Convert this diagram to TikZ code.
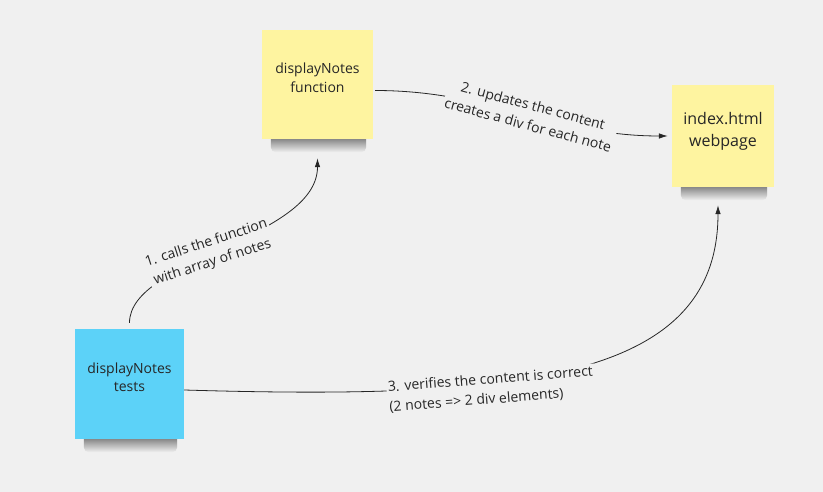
\documentclass[tikz,border=0pt]{standalone}
\usepackage{fontspec}
\setmainfont{Open Sans}
\usetikzlibrary{arrows.meta}
\definecolor{bgcol}{RGB}{240,240,240}
\definecolor{ink}{RGB}{38,38,38}
\definecolor{notey}{RGB}{254,244,160}
\definecolor{noteb}{RGB}{92,210,248}
\pgfdeclarelayer{bg}
\pgfdeclarelayer{shadow}
\pgfsetlayers{bg,shadow,main}
\tikzset{>={Latex[length=9pt,width=5.5pt]}}
\tikzset{
  note/.style={minimum width=110pt,minimum height=110pt,inner sep=0pt,align=center,text=ink,
    text depth=14pt,font=\fontsize{14}{18.5}\selectfont},
  lab/.style={fill=bgcol,inner sep=1.5pt,align=center,text=ink,font=\fontsize{14}{20}\selectfont},
  link/.style={draw=ink,line width=.8pt},
  notefx/.style={top color=black!62!bgcol,bottom color=bgcol,rounded corners=5pt}
}
\begin{document}
\begin{tikzpicture}[x=1pt,y=-1pt]
\begin{pgfonlayer}{bg}
\fill[bgcol] (0,0) rectangle (823,492);
\end{pgfonlayer}
\useasboundingbox (0,0) rectangle (823,492);
\node[note,fill=notey,minimum width=111pt,minimum height=109pt] (fn) at (317.5,84.5) {displayNotes\\function};
\node[note,fill=notey,minimum width=102pt,minimum height=102pt,font=\fontsize{16}{22}\selectfont] (web) at (723,136) {index.html\\webpage};
\node[note,fill=noteb,minimum width=109pt] (tests) at (129.5,384) {displayNotes\\tests};
\begin{pgfonlayer}{shadow}
\foreach \n in {fn,web,tests}
  \shade[notefx] ([xshift=9pt,yshift=6pt]\n.south west) rectangle ([xshift=-7pt,yshift=-13pt]\n.south east);
\end{pgfonlayer}
\draw[link,->,shorten <=6pt,shorten >=19pt] (tests.north) .. controls +(0,-70) and +(0,100) .. (fn.south)
  node[lab,pos=.45,rotate=18] (l1) {1. calls the function\\with array of notes};
\draw[link,->,shorten <=2pt,shorten >=4pt] ([yshift=-6pt]fn.east) to[out=0,in=180]
  node[lab,pos=.53,rotate=-15] (l2) {2. updates the content\\creates a div for each note} (web.west);
\draw[link,->,shorten >=18pt] ([yshift=-6pt]tests.east) .. controls +(336,10) and +(0,193) .. ([xshift=-5pt]web.south)
  node[lab,align=left,pos=.36,rotate=4.5,yshift=-7pt] (l3) {3. verifies the content is correct\\(2 notes => 2 div elements)};
\end{tikzpicture}
\end{document}
